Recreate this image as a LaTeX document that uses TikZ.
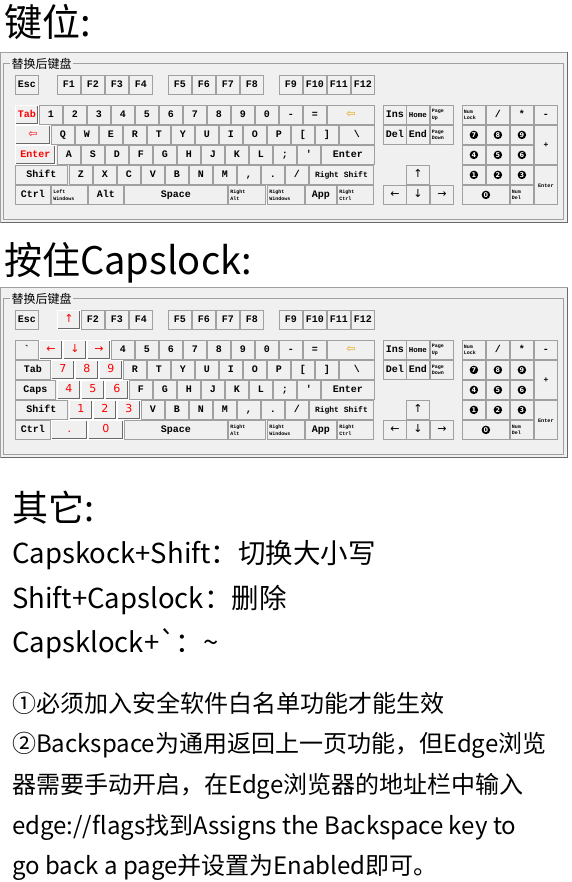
\documentclass[tikz,border=0pt]{standalone}
\usepackage{fontspec}
\newfontfamily\cjk{Noto Sans CJK SC}
\newfontfamily\keyfont{Liberation Mono}
\newfontfamily\symfont{DejaVu Sans}
\usetikzlibrary{positioning}
\definecolor{panelbg}{HTML}{F0F0F0}
\definecolor{keyline}{HTML}{A0A0A0}
\definecolor{keyshade}{HTML}{696969}
\definecolor{hotred}{HTML}{FF0000}
\definecolor{bsorange}{HTML}{E8A000}
\tikzset{%
  keycap/.style={draw=keyline, fill=panelbg, line width=0.8pt, anchor=north west,
    inner sep=0pt, minimum width=23pt, minimum height=19pt,
    text height=7pt, text depth=1.5pt,
    font=\keyfont\bfseries\fontsize{10}{10}\selectfont},
  smallcap/.style={keycap, align=left, inner xsep=1.5pt, text width=#1,
    text height=, text depth=,
    font=\keyfont\bfseries\fontsize{5}{6.8}\selectfont},
  smallcap/.default=20pt,
  hotcap/.style={keycap, text=hotred, draw=white,
    path picture={\draw[keyshade, line width=2.4pt]
      (path picture bounding box.south west) -- (path picture bounding box.south east)
      -- (path picture bounding box.north east);}},
  arrowcap/.style={font=\symfont\fontsize{11}{11}\selectfont},
  numdot/.style={circle, fill=black, text=white, inner sep=0pt, minimum size=8.5pt,
    font=\symfont\bfseries\fontsize{6.5}{6.5}\selectfont},
  heading/.style={anchor=base west, inner sep=0pt, font=\cjk\fontsize{38}{46}\selectfont},
  bodyline/.style={anchor=base west, inner sep=0pt, font=\cjk\fontsize{27.5}{32}\selectfont},
  noteline/.style={anchor=base west, inner sep=0pt, font=\cjk\fontsize{24}{28}\selectfont},
}

% grey window with its group box
\newcommand{\panelframe}{%
  \fill[panelbg] (0,52) rectangle (568,223);
  \draw[keyline] (0.5,52.5) rectangle (567.5,222.5);
  \draw[keyshade, line width=1.5pt] (0.5,222.5) -- (567.5,222.5) -- (567.5,52.5);
  \draw[keyline] (3.5,63.5) rectangle (563.5,219.5);
  \node[anchor=west, fill=panelbg, inner sep=1.5pt, font=\cjk\fontsize{12}{12}\selectfont]
    (\kb-title) at (10,63.5) {替换后键盘};
}

% keys that both keyboards share
\newcommand{\basekeys}{%
  \foreach \x/\lab in {15/Esc,81/F2,105/F3,129/F4,168/F5,192/F6,216/F7,240/F8,279/F9,303/F10,327/F11,351/F12}
    \node[keycap] (\kb-f\x) at (\x,75) {\lab};
  \foreach \x/\lab in {111/4,135/5,159/6,183/7,207/8,231/9,255/0,279/-,303/=}
    \node[keycap] (\kb-n\x) at (\x,105) {\lab};
  \node[keycap, arrowcap, text=bsorange, minimum width=47pt] (\kb-bksp) at (327,105) {⇦};
  \foreach \x/\lab in {123/R,147/T,171/Y,195/U,219/I,243/O,267/P,291/{[},315/{]}}
    \node[keycap] (\kb-q\x) at (\x,125) {\lab};
  \node[keycap, minimum width=35pt] (\kb-bsl) at (339,125) {\textbackslash};
  \foreach \x/\lab in {129/F,153/G,177/H,201/J,225/K,249/L,273/;,297/'}
    \node[keycap] (\kb-h\x) at (\x,145) {\lab};
  \node[keycap, minimum width=53pt] (\kb-ent) at (321,145) {Enter};
  \node[keycap, minimum width=52pt] (\kb-lsh) at (15,165) {Shift};
  \foreach \x/\lab in {141/V,165/B,189/N,213/M,237/{,},261/.,285/{/}}
    \node[keycap] (\kb-z\x) at (\x,165) {\lab};
  \node[keycap, minimum width=64pt, font=\keyfont\bfseries\fontsize{8}{8}\selectfont]
    (\kb-rsh) at (309,165) {Right Shift};
  \node[keycap, minimum width=35pt] (\kb-lct) at (15,185) {Ctrl};
  \node[keycap, minimum width=103pt] (\kb-spc) at (124,185) {Space};
  \node[smallcap=33pt, minimum width=37pt] (\kb-ralt) at (228,185) {Right\\Alt};
  \node[smallcap=33pt, minimum width=37pt] (\kb-rwin) at (267,185) {Right\\Windows};
  \node[keycap, minimum width=31pt] (\kb-app) at (305,185) {App};
  \node[smallcap=32pt, minimum width=36pt] (\kb-rct) at (337,185) {Right\\Ctrl};
  % edit and arrow keys
  \node[keycap] (\kb-ins) at (383,105) {Ins};
  \node[keycap, font=\keyfont\bfseries\fontsize{7.5}{7.5}\selectfont] (\kb-home) at (406,105) {Home};
  \node[smallcap] (\kb-pgu) at (430,105) {Page\\Up};
  \node[keycap] (\kb-del) at (383,125) {Del};
  \node[keycap] (\kb-end) at (406,125) {End};
  \node[smallcap] (\kb-pgd) at (430,125) {Page\\Down};
  \node[keycap, arrowcap] (\kb-up) at (406,165) {↑};
  \foreach \x/\lab in {383/←,406/↓,430/→}
    \node[keycap, arrowcap] (\kb-ar\x) at (\x,185) {\lab};
  % numeric pad
  \node[smallcap] (\kb-nlk) at (462,105) {Num\\Lock};
  \foreach \x/\lab in {486/{/},510/*,534/-}
    \node[keycap] (\kb-p\x) at (\x,105) {\lab};
  \foreach \x/\y/\d in {462/125/7,486/125/8,510/125/9,462/145/4,486/145/5,510/145/6,462/165/1,486/165/2,510/165/3} {
    \node[keycap] (\kb-k\d) at (\x,\y) {};
    \node[numdot] (\kb-c\d) at (\kb-k\d) {\d};
  }
  \node[keycap, minimum width=47pt] (\kb-k0) at (462,185) {};
  \node[numdot] (\kb-c0) at (\kb-k0) {0};
  \node[smallcap] (\kb-ndl) at (510,185) {Num\\Del};
  \node[keycap, minimum height=39pt, font=\keyfont\bfseries\fontsize{8}{8}\selectfont] (\kb-plus) at (534,125) {+};
  \node[keycap, minimum height=39pt, font=\keyfont\bfseries\fontsize{5.2}{5.2}\selectfont] (\kb-pent) at (534,165) {Enter};
}

\begin{document}
\begin{tikzpicture}[x=1pt, y=-1pt]
  \useasboundingbox (0,0) rectangle (571,882);

  \node[heading] (h1) at (4,37) {键位:};

  % keyboard after remapping
  \begin{scope}
    \def\kb{a}
    \panelframe
    \basekeys
    \node[keycap] (a-f57) at (57,75) {F1};
    \node[hotcap] (a-tab) at (15,105) {Tab};
    \foreach \x/\lab in {39/1,63/2,87/3}
      \node[keycap] (a-n\x) at (\x,105) {\lab};
    \node[hotcap, arrowcap, minimum width=35pt] (a-bk) at (15,125) {⇦};
    \foreach \x/\lab in {51/Q,75/W,99/E}
      \node[keycap] (a-q\x) at (\x,125) {\lab};
    \node[hotcap, minimum width=40pt] (a-lent) at (15,145) {Enter};
    \foreach \x/\lab in {57/A,81/S,105/D}
      \node[keycap] (a-h\x) at (\x,145) {\lab};
    \foreach \x/\lab in {69/Z,93/X,117/C}
      \node[keycap] (a-z\x) at (\x,165) {\lab};
    \node[smallcap=32pt, minimum width=36pt] (a-lwin) at (51,185) {Left\\Windows};
    \node[keycap, minimum width=35pt] (a-alt) at (88,185) {Alt};
  \end{scope}

  \node[heading] (h2) at (4,275) {按住Capslock:};

  % keyboard while Capslock is held
  \begin{scope}[shift={(0,235)}]
    \def\kb{b}
    \panelframe
    \basekeys
    \node[hotcap, arrowcap] (b-f57) at (57,75) {↑};
    \node[keycap] (b-grv) at (15,105) {`};
    \foreach \x/\lab in {39/←,63/↓,87/→}
      \node[hotcap, arrowcap] (b-n\x) at (\x,105) {\lab};
    \node[keycap, minimum width=35pt] (b-tab) at (15,125) {Tab};
    \foreach \x/\lab in {51/7,75/8,99/9}
      \node[hotcap, arrowcap] (b-q\x) at (\x,125) {\lab};
    \node[keycap, minimum width=40pt] (b-caps) at (15,145) {Caps};
    \foreach \x/\lab in {57/4,81/5,105/6}
      \node[hotcap, arrowcap] (b-h\x) at (\x,145) {\lab};
    \foreach \x/\lab in {69/1,93/2,117/3}
      \node[hotcap, arrowcap] (b-z\x) at (\x,165) {\lab};
    \node[hotcap, arrowcap, minimum width=36pt] (b-dot) at (51,185) {.};
    \node[hotcap, arrowcap, minimum width=35pt] (b-zero) at (88,185) {0};
  \end{scope}

  \node[heading, font=\cjk\fontsize{36}{44}\selectfont] (h3) at (12,521) {其它:};
  \node[bodyline] (t1) at (12,563) {Capskock+Shift：切换大小写};
  \node[bodyline] (t2) at (12,608) {Shift+Capslock：删除};
  \node[bodyline] (t3) at (12,652) {Capsklock+`：\textasciitilde};

  \node[noteline] (n1) at (12,712) {①必须加入安全软件白名单功能才能生效};
  \node[noteline] (n2) at (12,752.5) {②Backspace为通用返回上一页功能，但Edge浏览};
  \node[noteline] (n3) at (12,793) {器需要手动开启，在Edge浏览器的地址栏中输入};
  \node[noteline] (n4) at (12,834) {edge://flags找到Assigns the Backspace key to};
  \node[noteline] (n5) at (12,874) {go back a page并设置为Enabled即可。};
\end{tikzpicture}
\end{document}
